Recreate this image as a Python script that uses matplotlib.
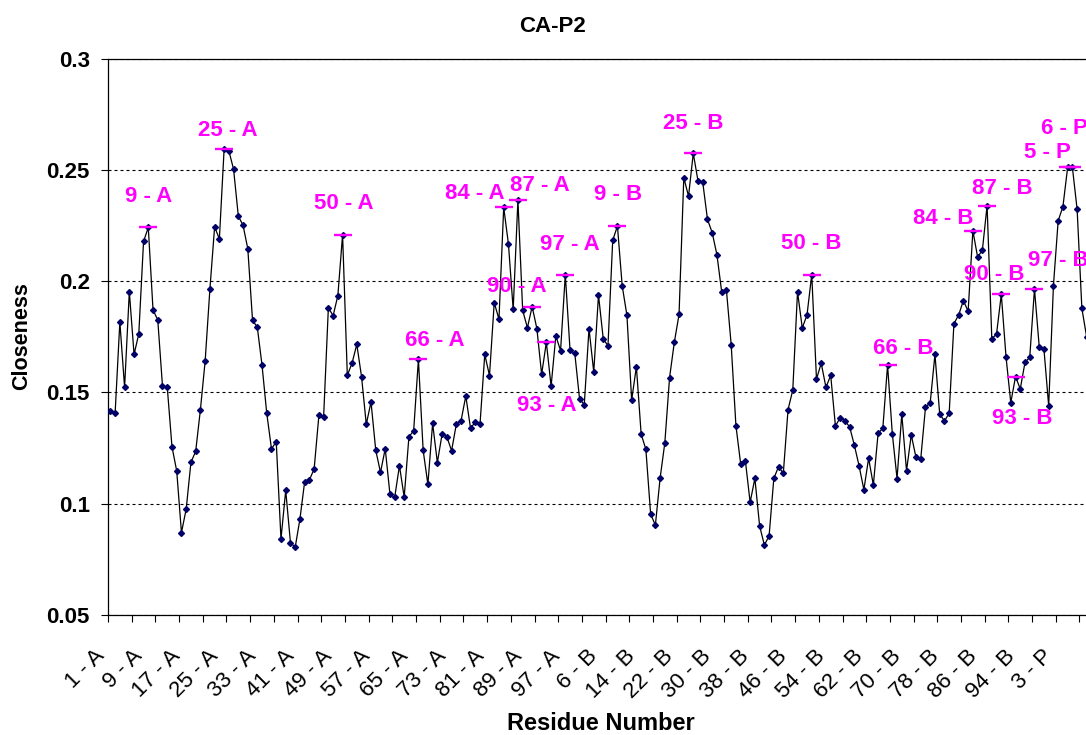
import matplotlib
matplotlib.use("Agg")
import matplotlib.pyplot as plt
from matplotlib.transforms import ScaledTranslation

plt.rcParams['font.family'] = ['Liberation Sans', 'DejaVu Sans']

# residues: protease chains A and B (99 each), then peptide P
residues = ([f"{n} - A" for n in range(1, 100)] +
            [f"{n} - B" for n in range(1, 100)] +
            [f"{n} - P" for n in range(1, 10)])

closeness = [
    0.1417, 0.1406, 0.1817, 0.1523, 0.1953, 0.1671, 0.1764, 0.2179, 0.2242, 0.1871,
    0.1826, 0.1528, 0.1525, 0.1256, 0.1147, 0.0870, 0.0976, 0.1186, 0.1235, 0.1423,
    0.1641, 0.1964, 0.2245, 0.2190, 0.2593, 0.2587, 0.2503, 0.2293, 0.2251, 0.2146,
    0.1824, 0.1794, 0.1623, 0.1406, 0.1246, 0.1279, 0.0841, 0.1060, 0.0825, 0.0804,
    0.0931, 0.1099, 0.1107, 0.1156, 0.1397, 0.1390, 0.1881, 0.1845, 0.1935, 0.2209,
    0.1577, 0.1632, 0.1716, 0.1571, 0.1357, 0.1457, 0.1240, 0.1141, 0.1247, 0.1042,
    0.1029, 0.1171, 0.1029, 0.1301, 0.1328, 0.1649, 0.1240, 0.1087, 0.1361, 0.1185,
    0.1313, 0.1301, 0.1238, 0.1357, 0.1373, 0.1484, 0.1339, 0.1367, 0.1357, 0.1671,
    0.1576, 0.1904, 0.1829, 0.2332, 0.2167, 0.1873, 0.2365, 0.1869, 0.1791, 0.1886,
    0.1787, 0.1582, 0.1725, 0.1528, 0.1754, 0.1688, 0.2030, 0.1689, 0.1676,
    # chain B
    0.1472, 0.1445, 0.1787, 0.1592, 0.1938, 0.1742, 0.1709, 0.2184, 0.2248, 0.1980,
    0.1847, 0.1466, 0.1616, 0.1313, 0.1244, 0.0954, 0.0903, 0.1114, 0.1274, 0.1567,
    0.1725, 0.1851, 0.2466, 0.2382, 0.2575, 0.2451, 0.2445, 0.2278, 0.2218, 0.2118,
    0.1952, 0.1959, 0.1715, 0.1351, 0.1179, 0.1192, 0.1006, 0.1114, 0.0900, 0.0814,
    0.0855, 0.1114, 0.1166, 0.1136, 0.1423, 0.1511, 0.1953, 0.1790, 0.1848, 0.2030,
    0.1560, 0.1631, 0.1523, 0.1577, 0.1349, 0.1387, 0.1373, 0.1345, 0.1262, 0.1169,
    0.1063, 0.1204, 0.1084, 0.1316, 0.1339, 0.1623, 0.1315, 0.1113, 0.1402, 0.1148,
    0.1309, 0.1208, 0.1201, 0.1433, 0.1454, 0.1671, 0.1403, 0.1372, 0.1406, 0.1809,
    0.1848, 0.1913, 0.1865, 0.2227, 0.2109, 0.2139, 0.2340, 0.1740, 0.1764, 0.1941,
    0.1659, 0.1454, 0.1571, 0.1516, 0.1635, 0.1658, 0.1965, 0.1706, 0.1694,
    # peptide P
    0.1439, 0.1980, 0.2272, 0.2335, 0.2512, 0.2512, 0.2323, 0.1878, 0.1751,
]

# residues flagged with a magenta label
peaks = ["9 - A", "25 - A", "50 - A", "66 - A", "84 - A", "87 - A", "90 - A",
         "93 - A", "97 - A", "9 - B", "25 - B", "50 - B", "66 - B", "84 - B",
         "87 - B", "90 - B", "93 - B", "97 - B", "5 - P", "6 - P"]

# label position relative to its point, in pixels (right, down)
peak_offsets = [(0.5, -31), (4, -19), (1.6, -31), (16.6, -19), (-29, -14),
                (22, -15), (-15.7, -20), (0, 62.6), (5, -30), (1, -32),
                (0, -30), (0, -31), (15.4, -17), (-29.4, -12.3), (15.6, -16.7),
                (-7, -20), (6.3, 41.7), (24, -29), (-20.5, -14.6), (-8.4, -39)]

yticks = [0.05, 0.1, 0.15, 0.2, 0.25, 0.3]
ytick_labels = ["0.05", "0.1", "0.15", "0.2", "0.25", "0.3"]

W, H = 1086, 735
fig = plt.figure(figsize=(W / 100, H / 100), dpi=100)
n = len(closeness)
ax = fig.add_axes([108 / W, 1 - 614.9 / H, n * 4.739 / W, (614.9 - 58.8) / H])

x = list(range(n))
ax.plot(x, closeness, color='black', lw=0.9, marker='D', ms=3,
        mfc='#000066', mec='#000066', zorder=3)

pk_x = [residues.index(p) for p in peaks]
pk_y = [closeness[i] for i in pk_x]
ax.plot(pk_x, pk_y, ls='none', marker='_', ms=13.5, mew=1.7,
        color='#FF00FF', zorder=4)
for lab, i, v, (dx, dy) in zip(peaks, pk_x, pk_y, peak_offsets):
    ax.annotate(lab, (i, v), xytext=(dx, -dy), textcoords='offset pixels',
                ha='center', va='center', color='#FF00FF', fontsize=16,
                fontweight='bold', annotation_clip=False, zorder=5)

ax.set_xlim(-0.5, n - 0.5)
ax.set_ylim(0.05, 0.3)

ax.set_xticks(x[::8])
ax.set_xticklabels(residues[::8], rotation=45, ha='right',
                   rotation_mode='anchor', fontsize=16)
ax.set_xticks([i - 0.5 for i in range(0, n, 5)], minor=True)
ax.tick_params(axis='x', which='major', length=0, pad=12)
ax.tick_params(axis='x', which='minor', length=5, width=0.8, direction='out')
# nudge the slanted labels down and left (after tick_params, which resets them)
shift = ScaledTranslation(-16 / 100, -14 / 100, fig.dpi_scale_trans)
for t in ax.get_xticklabels():
    t.set_transform(t.get_transform() + shift)

ax.set_yticks(yticks)
ax.set_yticklabels(ytick_labels, fontsize=16, fontweight='bold')
ax.tick_params(axis='y', length=5, width=0.8, direction='out', pad=8)

ax.yaxis.grid(True, ls=(0, (2.7, 2.7)), color='black', lw=0.8)
ax.set_axisbelow(True)
for s in ax.spines.values():
    s.set_linewidth(0.9)
    s.set_color('black')

fig.text(553 / W, 1 - 27 / H, "CA-P2", ha='center', va='center',
         fontsize=16, fontweight='bold')
fig.text(22 / W, 1 - 336 / H, "Closeness", ha='center', va='center',
         rotation=90, fontsize=15.5, fontweight='bold')
fig.text(601 / W, 1 - 724 / H, "Residue Number", ha='center', va='center',
         fontsize=17, fontweight='bold')

fig.savefig("out.png", dpi=100)
